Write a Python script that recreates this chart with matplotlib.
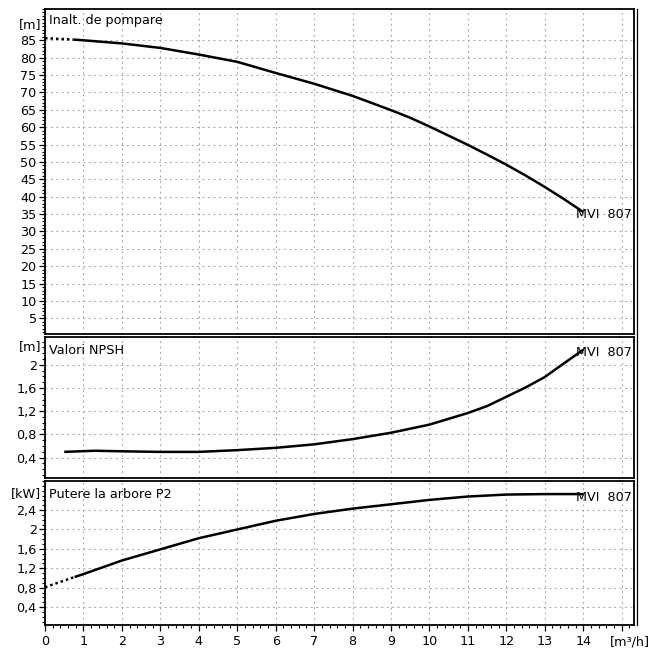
import matplotlib
matplotlib.use('Agg')
import matplotlib.pyplot as plt
from matplotlib.ticker import MultipleLocator, FixedLocator, FixedFormatter
from matplotlib.lines import Line2D

plt.rcParams['font.family'] = ['DejaVu Sans']
plt.rcParams['font.size'] = 9.2

# ---- data ----
q_head = [0.75, 1, 2, 3, 4, 5, 6, 7, 8, 9, 9.5, 10, 11, 11.5, 12, 12.5, 13, 13.5, 14]
head = [85.2, 85.0, 84.1, 82.8, 80.9, 78.8, 75.6, 72.5, 69.0, 64.9, 62.7, 60.2, 54.9, 52.1,
        49.2, 46.1, 42.8, 39.3, 35.6]
q_head_ext = [0, 0.75]
head_ext = [85.6, 85.2]

q_npsh = [0.5, 1.3, 2, 3, 4, 5, 6, 7, 8, 9, 10, 11, 11.5, 12, 12.5, 13, 13.4, 14]
npsh = [0.50, 0.52, 0.51, 0.50, 0.50, 0.53, 0.57, 0.63, 0.72, 0.83, 0.97, 1.17, 1.29, 1.45,
        1.61, 1.79, 1.98, 2.26]

q_pow = [0.77, 1, 2, 3, 4, 5, 6, 7, 8, 9, 10, 11, 12, 13, 14]
power = [1.02, 1.08, 1.36, 1.59, 1.82, 2.00, 2.18, 2.32, 2.43, 2.52, 2.61, 2.68, 2.72, 2.73, 2.73]
q_pow_ext = [0, 0.77]
power_ext = [0.81, 1.02]

x_ticks = list(range(0, 16))
x_labels = [str(i) for i in range(0, 15)] + ['']

head_ticks = list(range(5, 90, 5))
head_labels = [str(v) for v in head_ticks]
npsh_ticks = [0.4, 0.8, 1.2, 1.6, 2.0]
npsh_labels = ['0,4', '0,8', '1,2', '1,6', '2']
pow_ticks = [0.4, 0.8, 1.2, 1.6, 2.0, 2.4]
pow_labels = ['0,4', '0,8', '1,2', '1,6', '2', '2,4']

pump = 'MVI  807'
titles = ['Inalt. de pompare', 'Valori NPSH', 'Putere la arbore P2']
units = ['[m]', '[m]', '[kW]']

# ---- figure ----
W, H = 655, 649
fig = plt.figure(figsize=(W / 100, H / 100), dpi=100)

def rect(top, bottom, left=45, right=634):
    return [left / W, 1 - bottom / H, (right - left) / W, (bottom - top) / H]

ax1 = fig.add_axes(rect(9, 334))
ax2 = fig.add_axes(rect(337, 478))
ax3 = fig.add_axes(rect(481, 625))
axes = [ax1, ax2, ax3]

grid_kw = dict(color='#a6a6a6', linewidth=0.75, linestyle=(0, (1.8, 3.4)))
line_kw = dict(color='black', linewidth=1.8, solid_capstyle='butt', solid_joinstyle='round')
dot_kw = dict(color='black', linewidth=1.8, linestyle=(0, (1, 1.2)))

for ax in axes:
    ax.set_xlim(0, 15.32)
    ax.xaxis.set_major_locator(FixedLocator(x_ticks))
    ax.xaxis.set_minor_locator(MultipleLocator(0.2))
    ax.grid(True, which='major', axis='both', **grid_kw)
    ax.set_axisbelow(True)
    for s in ax.spines.values():
        s.set_linewidth(1.3)
        s.set_color('black')
    ax.tick_params(axis='y', which='major', direction='out', length=4.5, width=0.9, pad=1.5)
    ax.tick_params(axis='y', which='minor', direction='out', length=2.5, width=0.8)

# head panel
ax1.set_ylim(0.5, 94)
ax1.yaxis.set_major_locator(FixedLocator(head_ticks))
ax1.yaxis.set_major_formatter(FixedFormatter(head_labels))
ax1.yaxis.set_minor_locator(MultipleLocator(1))
ax1.plot(q_head_ext, head_ext, **dot_kw)
ax1.plot(q_head, head, **line_kw)
ax1.annotate(pump, xy=(q_head[-1], head[-1]), xytext=(-7, -3), textcoords='offset pixels',
             ha='left', va='center')

# npsh panel
ax2.set_ylim(0.05, 2.48)
ax2.yaxis.set_major_locator(FixedLocator(npsh_ticks))
ax2.yaxis.set_major_formatter(FixedFormatter(npsh_labels))
ax2.yaxis.set_minor_locator(MultipleLocator(0.1))
ax2.plot(q_npsh, npsh, **line_kw)
ax2.annotate(pump, xy=(q_npsh[-1], npsh[-1]), xytext=(-7, -3), textcoords='offset pixels',
             ha='left', va='center')

# power panel
ax3.set_ylim(0.03, 3.0)
ax3.yaxis.set_major_locator(FixedLocator(pow_ticks))
ax3.yaxis.set_major_formatter(FixedFormatter(pow_labels))
ax3.yaxis.set_minor_locator(MultipleLocator(0.1))
ax3.plot(q_pow_ext, power_ext, **dot_kw)
ax3.plot(q_pow, power, **line_kw)
ax3.annotate(pump, xy=(q_pow[-1], power[-1]), xytext=(-7, -3), textcoords='offset pixels',
             ha='left', va='center')

for ax in (ax1, ax2):
    ax.tick_params(axis='x', which='both', length=0, labelbottom=False)
ax3.xaxis.set_major_formatter(FixedFormatter(x_labels))
ax3.tick_params(axis='x', which='major', direction='out', length=4.5, width=0.9, pad=2.5)
ax3.tick_params(axis='x', which='minor', direction='out', length=2.5, width=0.8)

title_pos = [0.966, 0.905, 0.905]
unit_pos = [0.952, 0.93, 0.915]
for ax, t, u, tp, up in zip(axes, titles, units, title_pos, unit_pos):
    ax.text(0.006, tp, t, transform=ax.transAxes, ha='left', va='center')
    ax.text(-0.006, up, u, transform=ax.transAxes, ha='right', va='center')

ax3.annotate('[m³/h]', xy=(15.2, 0), xycoords=('data', 'axes fraction'),
             xytext=(0, -17), textcoords='offset pixels', ha='center', va='center',
             annotation_clip=False)

# outer right frame line
fig.add_artist(Line2D([637 / W, 637 / W], [1 - 9 / H, 1 - 625 / H], color='black', linewidth=0.9))

fig.savefig('out.png', dpi=100)
